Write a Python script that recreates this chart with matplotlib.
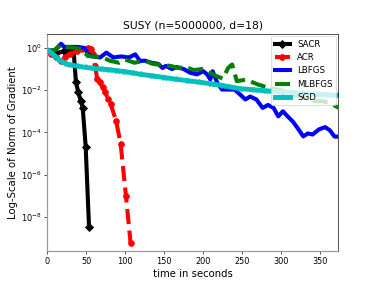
import matplotlib
matplotlib.use("Agg")
import matplotlib.pyplot as plt
import numpy as np

# time (s) and log10 of gradient norm
sacr_t = [0, 12, 22, 28, 34, 37, 40, 43.2, 45.7, 49.5, 53.8]
sacr_e = [-0.14, -0.25, -0.15, -0.05, -0.1, -1.6, -2.1, -2.5, -2.83, -4.67, -8.48]

acr_t = [0, 5, 12, 18, 23, 30, 38, 45, 52, 56, 59, 61.5, 64.4, 67.9, 71.3, 74.3,
         78.5, 81.6, 88.3, 94.3, 101, 107]
acr_e = [-0.14, -0.3, -0.45, -0.6, -0.45, -0.3, -0.15, -0.05, 0.0, -0.05, -0.3,
         -0.84, -1.49, -1.63, -1.87, -2.1, -2.43, -2.67, -3.44, -4.54, -7.0, -9.24]

lbfgs_t = [0, 10, 18, 22, 30, 40, 48, 53, 58, 68, 76, 85, 95, 105, 113, 119, 125,
           134, 142, 148, 152, 160, 166, 175, 183, 192, 200, 205, 209, 212, 218,
           224, 232, 240, 247, 254, 260, 268, 276, 283, 290, 296, 302, 308, 315,
           322, 328, 334, 340, 348, 356, 362, 368, 373]
lbfgs_e = [-0.14, -0.1, 0.2, 0.05, 0.05, 0.05, 0.0, -0.3, -0.4, -0.45, -0.22, -0.45,
           -0.4, -0.45, -0.3, -0.62, -0.6, -0.7, -0.75, -0.95, -0.85, -1.0, -0.9,
           -1.0, -1.17, -1.25, -1.1, -1.25, -1.49, -1.1, -1.65, -1.97, -1.97,
           -1.97, -2.2, -2.44, -2.3, -2.44, -2.84, -2.7, -2.84, -3.24, -3.0,
           -3.24, -3.5, -3.86, -4.19, -4.05, -4.1, -3.86, -3.75, -3.9, -4.2, -4.2]

mlbfgs_t = [0, 10, 19, 25, 35, 45, 52, 58, 70, 80, 92, 100, 112, 125, 135, 145,
            158, 168, 178, 188, 198, 205, 215, 225, 232, 237, 243, 255, 270, 285,
            300, 315, 330, 341, 353, 365, 373]
mlbfgs_e = [-0.14, -0.1, 0.17, 0.05, 0.0, -0.05, -0.38, -0.4, -0.42, -0.6, -0.7,
            -0.55, -0.7, -0.6, -0.75, -0.8, -0.85, -0.95, -0.9, -1.05, -1.0, -1.1,
            -1.3, -1.45, -0.94, -0.78, -1.57, -1.5, -1.73, -1.9, -2.0, -2.2,
            -2.35, -2.52, -2.52, -2.65, -2.84]

sgd_t = [0, 5, 10, 15, 20, 25, 30, 40, 50, 60, 70, 80, 90, 100, 110, 120, 135,
         150, 165, 180, 195, 210, 225, 247, 265, 280, 300, 320, 340, 360, 373]
sgd_e = [-0.1, -0.22, -0.38, -0.55, -0.68, -0.76, -0.8, -0.87, -0.92, -0.97,
         -1.0, -1.03, -1.08, -1.12, -1.18, -1.25, -1.32, -1.4, -1.48, -1.55,
         -1.62, -1.7, -1.78, -1.93, -1.98, -2.03, -2.08, -2.13, -2.18, -2.22, -2.25]

fig, ax = plt.subplots(figsize=(6.4, 4.8), dpi=58.75)

ax.semilogy(sacr_t, 10 ** np.array(sacr_e), 'k-', marker='D', markersize=7, lw=5, label='SACR')
ax.semilogy(acr_t, 10 ** np.array(acr_e), 'r--', marker='o', markersize=7, lw=5, label='ACR')
ax.semilogy(lbfgs_t, 10 ** np.array(lbfgs_e), 'b-', lw=5, label='LBFGS')
ax.semilogy(mlbfgs_t, 10 ** np.array(mlbfgs_e), 'g--', lw=5, label='MLBFGS')
ax.semilogy(sgd_t, 10 ** np.array(sgd_e), 'c-', marker='*', markersize=7, lw=6, label='SGD')

ax.set_xlim(0, 373)
ax.set_ylim(10 ** -9.62, 10 ** 0.67)
ax.set_xticks([0, 50, 100, 150, 200, 250, 300, 350])
ax.set_yticks([1e-8, 1e-6, 1e-4, 1e-2, 1e0])
ax.minorticks_off()
ax.tick_params(labelsize=10)

for side in ['left', 'bottom']:
    ax.spines[side].set_color('#999999')
    ax.spines[side].set_linewidth(1.5)

ax.set_title('SUSY (n=5000000, d=18)', fontsize=13.2)
ax.set_xlabel('time in seconds', fontsize=12.4)
ax.set_ylabel('Log-Scale of Norm of Gradient', fontsize=12.4)
ax.legend(loc='upper right', borderaxespad=0.3, fontsize=10.5, handlelength=1.8)

fig.savefig('out.png', dpi=58.75)
